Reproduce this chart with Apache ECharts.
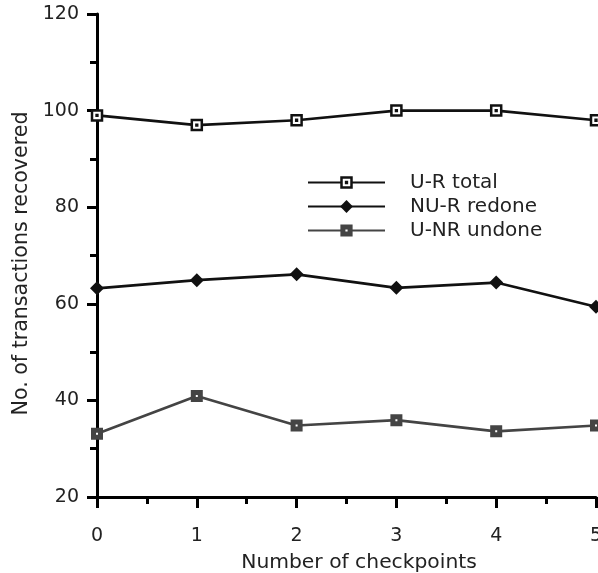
<!DOCTYPE html>
<html>
<head>
<meta charset="utf-8">
<script src="https://cdn.jsdelivr.net/npm/echarts@6/dist/echarts.min.js"></script>
<style>html,body{margin:0;padding:0;background:#fff;}#c{width:598px;height:573px;}</style>
</head>
<body>
<div id="c"></div>
<script>
const checkpoints = [0, 1, 2, 3, 4, 5];
const urTotal = [99, 97, 98, 100, 100, 98];
const nurRedone = [63.2, 64.9, 66.1, 63.3, 64.4, 59.4];
const unrUndone = [33.1, 40.9, 34.8, 35.9, 33.6, 34.8];
const seriesNames = ['U-R total', 'NU-R redone', 'U-NR undone'];

const FONT = 'DejaVu Sans';
const TXT = '#222';
const pair = (vals) => checkpoints.map((x, i) => [x, vals[i]]);

function legendRow(name, top, itemHeight, itemStyle) {
  return {
    orient: 'horizontal', left: 307, top: top, padding: 0,
    itemWidth: 77, itemHeight: itemHeight,
    data: [name],
    selectedMode: false,
    itemStyle: itemStyle,
    textStyle: { fontFamily: FONT, fontSize: 20, lineHeight: 20, color: TXT, padding: [3, 0, 0, 20] }
  };
}

const chart = echarts.init(document.getElementById('c'));
chart.setOption({
  animation: false,
  backgroundColor: '#fff',
  grid: { left: 97, top: 14, right: 2, bottom: 76, containLabel: false, outerBoundsMode: 'none' },
  legend: [
    legendRow(seriesNames[0], 171, 12.5, { color: '#fff', borderColor: '#111', borderWidth: 2.5 }),
    legendRow(seriesNames[1], 195, 16, { color: '#111', borderWidth: 0 }),
    legendRow(seriesNames[2], 219, 9, { color: '#fff', borderColor: '#444', borderWidth: 5 })
  ],
  xAxis: {
    type: 'value', min: 0, max: 5, interval: 1,
    name: 'Number of checkpoints', nameLocation: 'middle', nameGap: 56,
    nameTextStyle: { fontFamily: FONT, fontSize: 20.3, color: TXT, padding: [0, 0, 0, 25] },
    axisLine: { show: true, lineStyle: { color: '#000', width: 3 } },
    axisTick: { show: true, length: 11, lineStyle: { color: '#000', width: 3 } },
    minorTick: { show: true, splitNumber: 2, length: 7, lineStyle: { color: '#000', width: 3 } },
    axisLabel: { margin: 30, fontFamily: FONT, fontSize: 19, color: TXT },
    splitLine: { show: false }
  },
  yAxis: {
    type: 'value', min: 20, max: 120, interval: 20,
    name: 'No. of transactions recovered', nameLocation: 'middle', nameGap: 55,
    nameTextStyle: { fontFamily: FONT, fontSize: 20.6, color: TXT, padding: [0, 16, 0, 0] },
    axisLine: { show: true, lineStyle: { color: '#000', width: 3 } },
    axisTick: { show: true, length: 10, lineStyle: { color: '#000', width: 3 } },
    minorTick: { show: true, splitNumber: 2, length: 7, lineStyle: { color: '#000', width: 3 } },
    axisLabel: { margin: 18, fontFamily: FONT, fontSize: 19, color: TXT },
    splitLine: { show: false }
  },
  series: [
    {
      name: seriesNames[0], type: 'line', data: pair(urTotal),
      symbol: 'path://M0,0H12V12H0Z M5.5,5.5H6.5V6.5H5.5Z', symbolSize: 10,
      lineStyle: { color: '#111', width: 2.7 },
      itemStyle: { color: '#fff', borderColor: '#111', borderWidth: 2.5 },
      z: 3
    },
    {
      name: seriesNames[1], type: 'line', data: pair(nurRedone),
      symbol: 'diamond', symbolSize: 14,
      lineStyle: { color: '#111', width: 2.7 },
      itemStyle: { color: '#111' },
      z: 3
    },
    {
      name: seriesNames[2], type: 'line', data: pair(unrUndone),
      symbol: 'rect', symbolSize: 7,
      lineStyle: { color: '#444', width: 2.7 },
      itemStyle: { color: '#fff', borderColor: '#444', borderWidth: 5 },
      z: 3
    }
  ]
});
</script>
</body>
</html>
